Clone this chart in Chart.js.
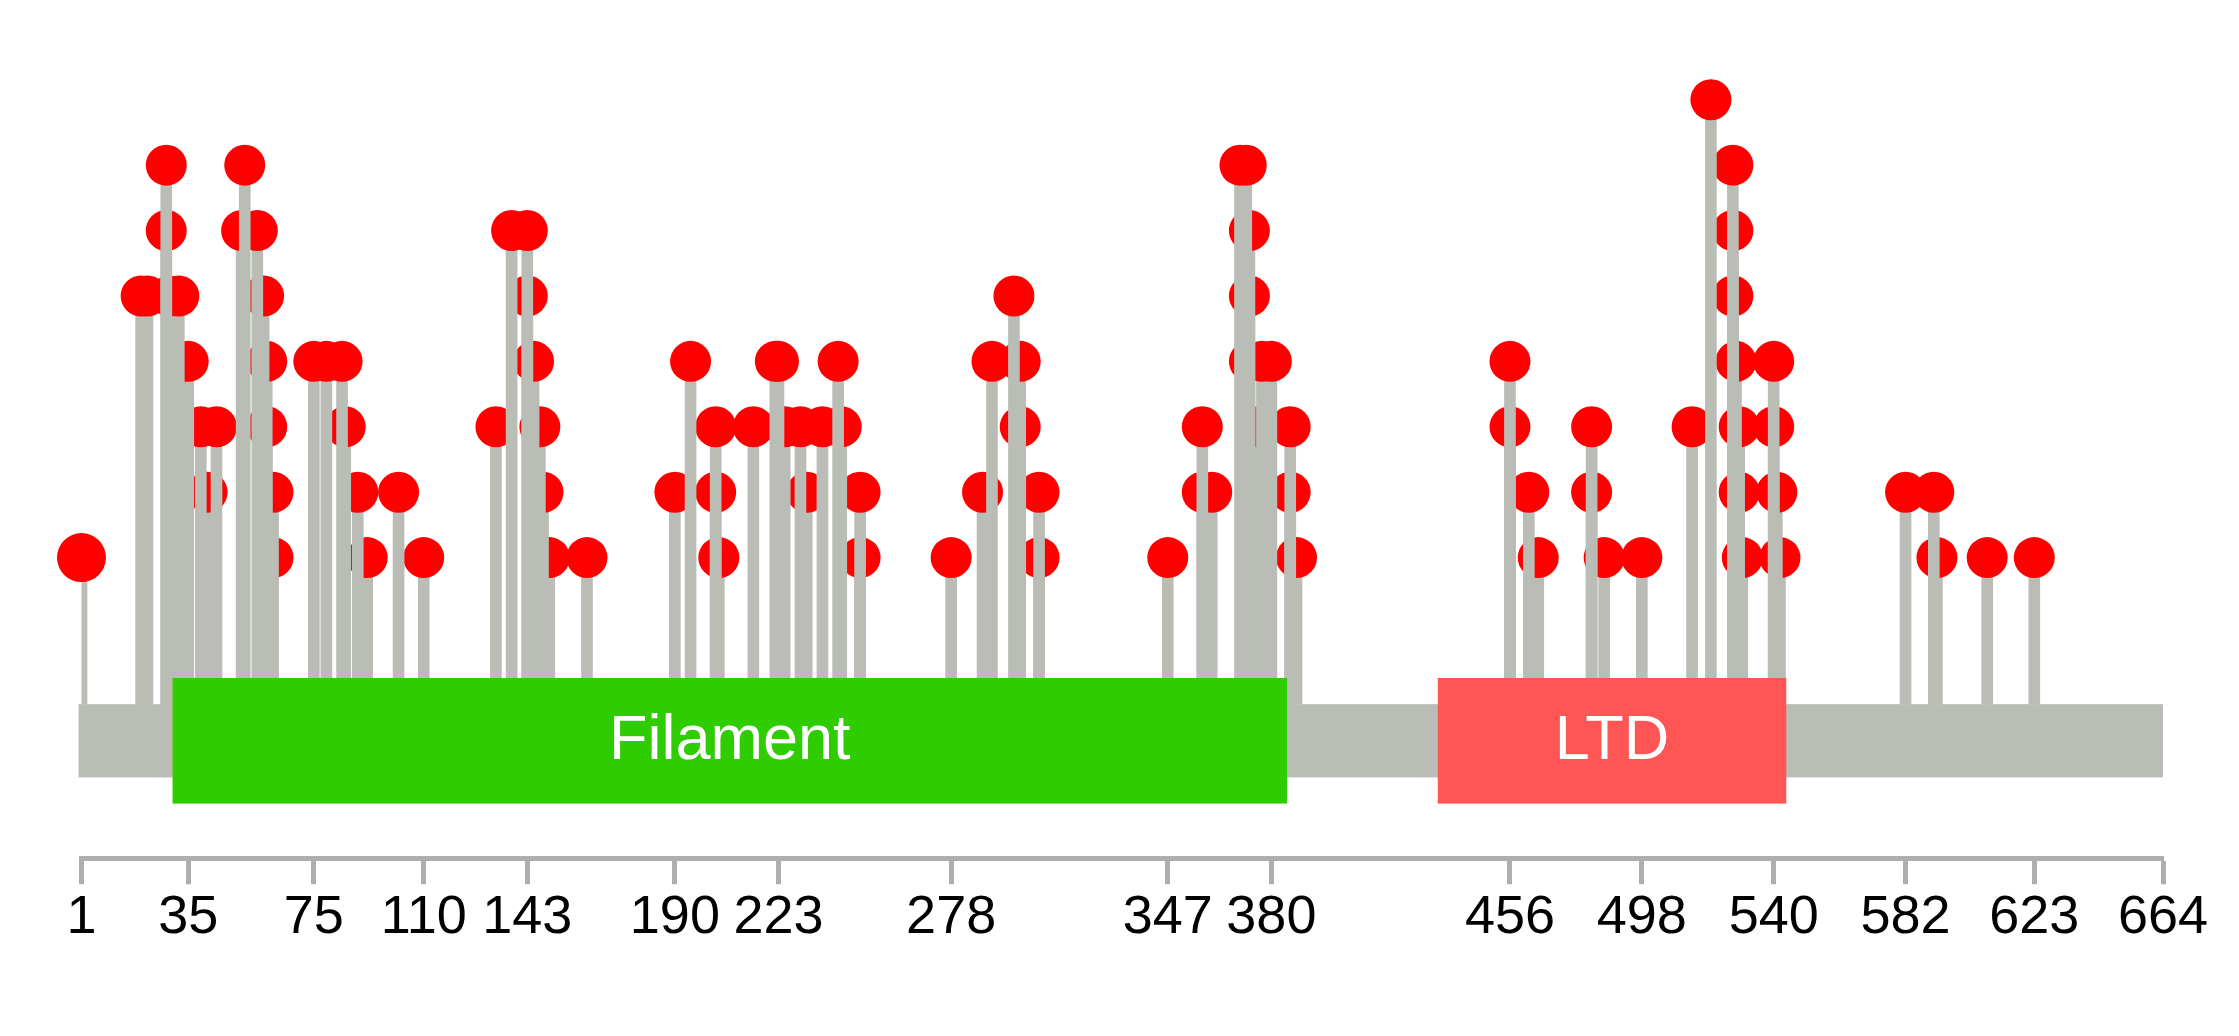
<!DOCTYPE html>
<html>
<head>
<meta charset="utf-8">
<title>LMNA mutation lollipop</title>
<script src="https://cdn.jsdelivr.net/npm/chart.js@4.4.1/dist/chart.umd.min.js"></script>
<style>
  html, body { margin: 0; padding: 0; background: #fff; }
  #wrap { width: 2239px; height: 1036px; position: relative; }
</style>
</head>
<body>
<div id="wrap"><canvas id="lollipop"></canvas></div>
<script>
// protein + mutation data (positions in amino acids, count = stem height)
const proteinLength = 664;

const mutationPos = [
  1, 20, 22, 28, 28, 29, 32, 33, 35, 39, 41, 44, 52, 53, 57, 59, 60, 60, 62, 62,
  75, 79, 84, 85, 89, 92, 102, 110, 133, 138, 143, 143, 145, 147, 148, 150, 162,
  190, 195, 203, 203, 204, 215, 222, 223, 225, 230, 232, 237, 242, 243, 249, 249,
  278, 288, 291, 298, 300, 300, 306, 306, 347, 358, 358, 361, 370, 372, 373, 373,
  373, 376, 377, 380, 386, 386, 388, 456, 456, 462, 465, 482, 482, 486, 498, 514,
  520, 527, 527, 527, 528, 529, 529, 530, 540, 540, 541, 542, 582, 591, 592, 608, 623
];
const mutationCount = [
  1, 5, 5, 7, 6, 5, 5, 4, 4, 3, 2, 3, 6, 7, 6, 5, 4, 3, 2, 1,
  4, 4, 4, 3, 2, 1, 2, 1, 3, 6, 6, 5, 4, 3, 2, 1, 1,
  2, 4, 3, 2, 1, 3, 4, 4, 3, 3, 2, 3, 4, 3, 2, 1,
  1, 2, 4, 5, 4, 3, 2, 1, 1, 3, 2, 2, 7, 7, 6, 5,
  4, 3, 4, 4, 3, 2, 1, 4, 3, 2, 1, 3, 2, 1, 1, 3,
  8, 7, 6, 5, 4, 3, 2, 1, 4, 3, 2, 1, 2, 2, 1, 1, 1
];

const domainNames = ["Filament", "LTD"];
const domainStart = [30, 433];
const domainEnd = [385, 544];

const tickValues = [1, 35, 75, 110, 143, 190, 223, 278, 347, 380, 456, 498, 540, 582, 623, 664];

// styling
const STEM_GRAY = "#babdb6";
const HEAD_RED = "#ff0000";
const AXIS_GRAY = "#aeaeae";
const domainColors = ["#2ecc00", "#ff5555"];
const FONT = "'Liberation Sans', Arial, Helvetica, sans-serif";

// vertical layout in "count" units
const STEM_BASE = -1.24;
const BACKBONE = [-1.24, -2.36];
const DOMAIN_BOX = [-0.84, -2.76];

// one stem + head dataset pair per height, taller ones drawn later
const datasets = [];
const maxCount = Math.max(...mutationCount);
for (let lvl = 1; lvl <= maxCount; lvl++) {
  const idx = mutationPos.map((p, i) => i).filter(i => mutationCount[i] === lvl);
  if (!idx.length) continue;
  datasets.push({
    type: "bar",
    data: idx.map(i => ({ x: mutationPos[i], y: [STEM_BASE, mutationCount[i]] })),
    backgroundColor: STEM_GRAY,
    borderWidth: 0,
    barThickness: 11,
    grouped: false,
    order: 100 - lvl * 2
  });
  datasets.push({
    type: "scatter",
    data: idx.map(i => ({ x: mutationPos[i], y: mutationCount[i] })),
    backgroundColor: HEAD_RED,
    borderWidth: 0,
    pointRadius: (c) => (c.raw && c.raw.x === 1 ? 24.5 : 20.5),
    pointHoverRadius: (c) => (c.raw && c.raw.x === 1 ? 24.5 : 20.5),
    clip: false,
    order: 99 - lvl * 2
  });
}

// backbone + domain boxes, placed with the chart scales
const proteinTrack = {
  id: "proteinTrack",
  afterDatasetsDraw(chart) {
    const { ctx, scales: { x, y } } = chart;
    ctx.save();

    const x0 = x.getPixelForValue(1) - 3;
    const x1 = x.getPixelForValue(proteinLength);
    const bTop = y.getPixelForValue(BACKBONE[0]);
    const bBot = y.getPixelForValue(BACKBONE[1]);
    ctx.fillStyle = STEM_GRAY;
    ctx.fillRect(x0, bTop, x1 - x0, bBot - bTop);

    const dTop = y.getPixelForValue(DOMAIN_BOX[0]);
    const dBot = y.getPixelForValue(DOMAIN_BOX[1]);
    domainNames.forEach((name, i) => {
      const left = x.getPixelForValue(domainStart[i]);
      const right = x.getPixelForValue(domainEnd[i]);
      ctx.fillStyle = domainColors[i];
      ctx.fillRect(left, dTop, right - left, dBot - dTop);
      ctx.fillStyle = "#ffffff";
      ctx.font = "63px " + FONT;
      ctx.textAlign = "center";
      ctx.textBaseline = "middle";
      ctx.fillText(name, (left + right) / 2, (dTop + dBot) / 2 + 1);
    });

    ctx.restore();
  }
};

new Chart(document.getElementById("lollipop"), {
  type: "bar",
  data: { datasets },
  options: {
    responsive: true,
    maintainAspectRatio: false,
    animation: false,
    events: [],
    layout: { padding: { left: 81.5, right: 76, top: 34.3, bottom: 83 } },
    plugins: {
      legend: { display: false },
      tooltip: { enabled: false }
    },
    scales: {
      x: {
        type: "linear",
        min: 1,
        max: proteinLength,
        offset: false,
        afterBuildTicks: (axis) => {
          axis.ticks = tickValues.map(v => ({ value: v }));
        },
        ticks: {
          autoSkip: false,
          maxRotation: 0,
          padding: 2,
          color: "#000000",
          font: { family: FONT, size: 54 },
          callback: (v) => String(v)
        },
        grid: {
          offset: false,
          drawOnChartArea: false,
          drawTicks: true,
          tickLength: 26,
          tickWidth: 5,
          tickColor: AXIS_GRAY
        },
        border: { display: true, color: AXIS_GRAY, width: 5 }
      },
      y: {
        display: false,
        min: -3.595,
        max: 9
      }
    }
  },
  plugins: [proteinTrack]
});
</script>
</body>
</html>
